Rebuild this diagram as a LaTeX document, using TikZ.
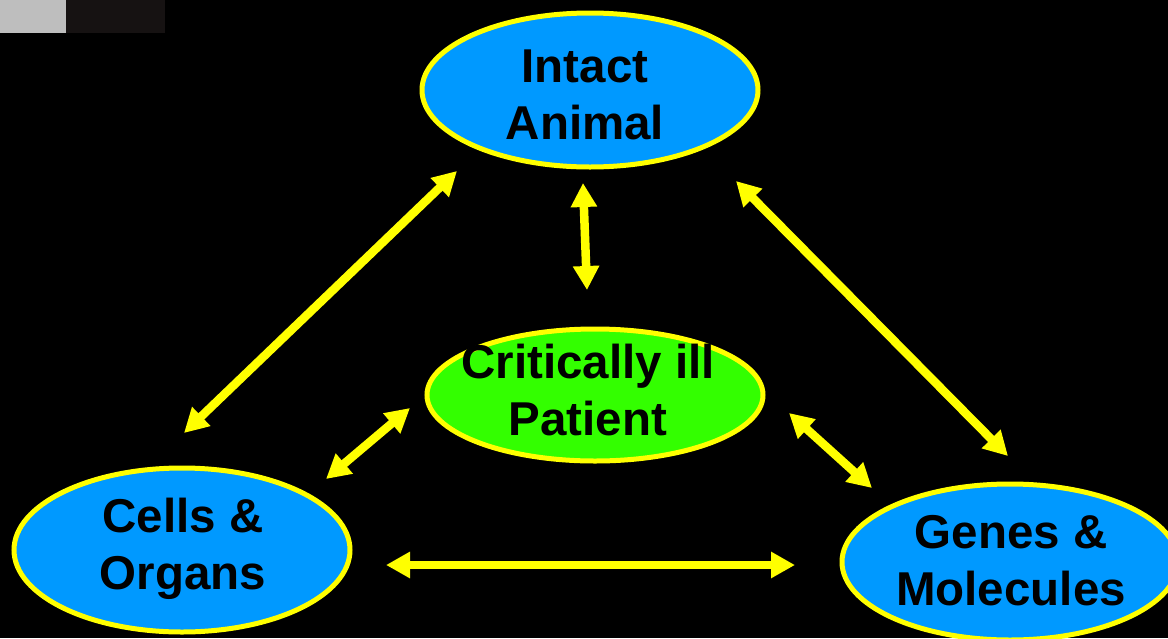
\documentclass[tikz,border=0pt]{standalone}
\usepackage{fontspec}
\setmainfont{Liberation Sans}
\usetikzlibrary{arrows.meta}
\definecolor{skyblue}{RGB}{0,153,255}
\definecolor{brightgreen}{RGB}{51,255,0}
\definecolor{ylw}{RGB}{255,255,0}
\definecolor{lgrey}{RGB}{190,190,190}
\definecolor{dgrey}{RGB}{22,18,18}
\begin{document}
\begin{tikzpicture}[x=1pt,y=-1pt,
  lbl/.style={font=\fontsize{47.5}{57}\selectfont\bfseries, align=center, text=black, inner sep=0pt},
  dbl/.style={draw=ylw, line width=8.5pt, {Triangle[length=24pt,width=25pt]}-{Triangle[length=24pt,width=25pt]}}]
\fill[black] (0,0) rectangle (1168,638);
\useasboundingbox (0,0) rectangle (1168,638);
\fill[lgrey] (0,0) rectangle (66,33);
\fill[dgrey] (66,0) rectangle (165,33);
\begin{scope}
\clip (0,0) rectangle (1168,638);
\fill[skyblue, draw=ylw, line width=5pt] (590,90) ellipse [x radius=168, y radius=77];
\node[lbl] (intact) at (585,95) {Intact\\Animal};
\fill[brightgreen, draw=ylw, line width=5pt] (595,395) ellipse [x radius=168, y radius=66];
\node[lbl] (patient) at (588,390) {Critically ill\\Patient};
\fill[skyblue, draw=ylw, line width=5pt] (182,550) ellipse [x radius=168, y radius=82];
\node[lbl] (cells) at (183,549) {Cells \&\\Organs};
\fill[skyblue, draw=ylw, line width=5pt] (1010,562) ellipse [x radius=168, y radius=78];
\node[lbl] (genes) at (1011,561) {Genes \&\\Molecules};
\end{scope}
\coordinate (ia1) at (457,171);
\coordinate (co1) at (184,433);
\coordinate (ia2) at (583,183);
\coordinate (pa2) at (587,290);
\coordinate (ia3) at (736,181);
\coordinate (ge3) at (1008,456);
\coordinate (pa4) at (410,408);
\coordinate (co4) at (326,479);
\coordinate (pa5) at (789,413);
\coordinate (ge5) at (872,488);
\coordinate (co6) at (386,565);
\coordinate (ge6) at (795,565);
\draw[dbl] (ia1) -- (co1);
\draw[dbl] (ia2) -- (pa2);
\draw[dbl] (ia3) -- (ge3);
\draw[dbl] (pa4) -- (co4);
\draw[dbl] (pa5) -- (ge5);
\draw[dbl] (co6) -- (ge6);
\end{tikzpicture}
\end{document}
